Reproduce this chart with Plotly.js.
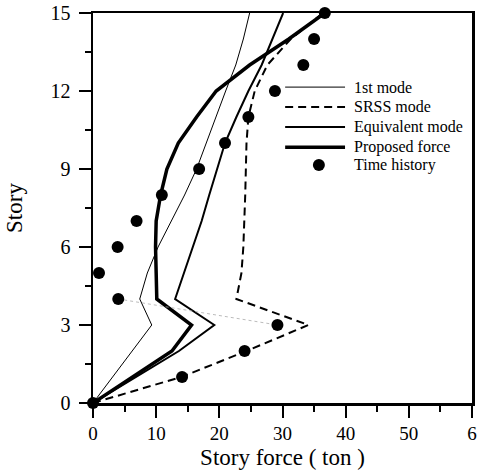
<!DOCTYPE html>
<html>
<head>
<meta charset="utf-8">
<script src="https://cdn.plot.ly/plotly-3.0.1.min.js"></script>
<style>html,body{margin:0;padding:0;background:#fff;}#chart{width:487px;height:472px;}</style>
</head>
<body>
<div id="chart"></div>
<script>
// Story levels
var stories = [0, 1, 2, 3, 4, 5, 6, 7, 8, 9, 10, 11, 12, 13, 14, 15];
// Story force (ton) per method
var firstMode   = [0, 3.1, 6.2, 9.3, 7.4, 8.6, 10.3, 12.4, 14.5, 16.4, 17.9, 19.4, 21.0, 22.6, 23.8, 24.8];
var srssMode    = [0, 14.0, 24.3, 34.1, 22.7, 23.5, 23.8, 24.0, 24.1, 24.2, 24.3, 24.6, 25.6, 27.6, 31.3, 36.4];
var equivMode   = [0, 6.8, 13.6, 19.2, 13.0, 14.4, 15.8, 17.2, 18.4, 19.7, 20.9, 22.7, 24.6, 26.7, 28.4, 30.1];
var proposed    = [0, 6.3, 12.5, 15.6, 10.1, 10.0, 9.9, 10.0, 10.7, 11.7, 13.5, 16.4, 19.5, 24.8, 31.0, 36.7];
var timeHistory = [0, 14.1, 24.0, 29.2, 4.0, 0.95, 3.9, 6.9, 10.9, 16.8, 20.9, 24.6, 28.8, 33.3, 35.0, 36.7];
// Axis ticks
var xTickVals = [0, 10, 20, 30, 40, 50, 60];
var xTickText = ["0", "10", "20", "30", "40", "50", "6"];
var yTickVals = [0, 3, 6, 9, 12, 15];
// Legend labels
var legendNames = ["1st mode", "SRSS mode", "Equivalent mode", "Proposed force", "Time history"];

var FONT = "Liberation Serif, Times New Roman, serif";

var traces = [
  {x: firstMode, y: stories, mode: "lines", line: {color: "#000", width: 1}, name: legendNames[0], showlegend: false},
  {x: srssMode, y: stories, mode: "lines", line: {color: "#000", width: 2, dash: "8px,5px"}, name: legendNames[1], showlegend: false},
  {x: equivMode, y: stories, mode: "lines", line: {color: "#000", width: 2}, name: legendNames[2], showlegend: false},
  {x: proposed, y: stories, mode: "lines", line: {color: "#000", width: 3.5}, name: legendNames[3], showlegend: false},
  {x: [timeHistory[4], timeHistory[3]], y: [stories[4], stories[3]], mode: "lines", line: {color: "#aaa", width: 0.8, dash: "dot"}, hoverinfo: "skip", showlegend: false},
  {x: timeHistory, y: stories, mode: "markers", marker: {color: "#000", size: 12}, cliponaxis: false, name: legendNames[4], showlegend: false}
];

// custom legend (paper coordinates)
var legRows = [0.810, 0.759, 0.708, 0.656, 0.610];
var lx0 = 0.507, lx1 = 0.665, tx = 0.683;
var shapes = [
  {type: "line", xref: "paper", yref: "paper", x0: lx0, x1: lx1, y0: legRows[0], y1: legRows[0], line: {color: "#000", width: 1}},
  {type: "line", xref: "paper", yref: "paper", x0: lx0, x1: lx1, y0: legRows[1], y1: legRows[1], line: {color: "#000", width: 2, dash: "8px,5px"}},
  {type: "line", xref: "paper", yref: "paper", x0: lx0, x1: lx1, y0: legRows[2], y1: legRows[2], line: {color: "#000", width: 2}},
  {type: "line", xref: "paper", yref: "paper", x0: lx0, x1: lx1, y0: legRows[3], y1: legRows[3], line: {color: "#000", width: 3.5}},
  {type: "circle", xref: "paper", yref: "paper", x0: 0.596 - 0.0158, x1: 0.596 + 0.0158, y0: legRows[4] - 0.0154, y1: legRows[4] + 0.0154, fillcolor: "#000", line: {color: "#000", width: 0}}
];
var annotations = legendNames.map(function (t, i) {
  return {xref: "paper", yref: "paper", x: tx, y: legRows[i], xanchor: "left", yanchor: "middle", text: t, showarrow: false, font: {family: FONT, size: 16, color: "#000"}};
});

var layout = {
  width: 487, height: 472,
  margin: {l: 93, r: 15, t: 13, b: 69},
  paper_bgcolor: "#fff", plot_bgcolor: "#fff",
  showlegend: false,
  font: {family: FONT, color: "#000"},
  xaxis: {
    range: [0, 60], tickvals: xTickVals, ticktext: xTickText,
    ticks: "outside", ticklen: 12, tickwidth: 2, tickcolor: "#000",
    minor: {dtick: 5, ticks: "outside", ticklen: 6, tickwidth: 2, tickcolor: "#000"},
    showline: true, linewidth: 2.5, linecolor: "#000", mirror: true,
    showgrid: false, zeroline: false,
    tickfont: {family: FONT, size: 19, color: "#000"},
    title: {text: "Story force ( ton )", font: {family: FONT, size: 23, color: "#000"}, standoff: 6}
  },
  yaxis: {
    range: [0, 15], tickvals: yTickVals,
    ticks: "outside", ticklen: 12, tickwidth: 2, tickcolor: "#000",
    minor: {dtick: 1.5, ticks: "outside", ticklen: 6, tickwidth: 2, tickcolor: "#000"},
    showline: true, linewidth: 2.5, linecolor: "#000", mirror: true,
    showgrid: false, zeroline: false, ticklabelstandoff: 4,
    tickfont: {family: FONT, size: 20, color: "#000"},
    title: {text: "Story", font: {family: FONT, size: 23, color: "#000"}, standoff: 22}
  },
  shapes: shapes,
  annotations: annotations
};

Plotly.newPlot("chart", traces, layout, {displayModeBar: false, staticPlot: true});
</script>
</body>
</html>
